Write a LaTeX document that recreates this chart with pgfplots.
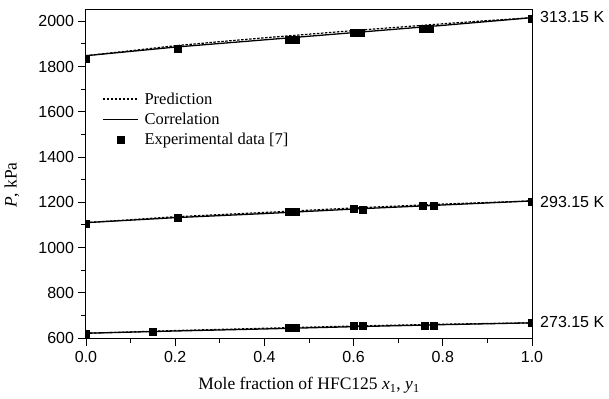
\documentclass[border=0pt]{standalone}
\usepackage{fontspec}
\setmainfont{Liberation Serif}
\newfontfamily\lsans{Liberation Sans}
\usepackage{pgfplots}
\pgfplotsset{compat=1.18}
\pgfplotsset{
  linelegend/.style={legend image code/.code={\draw[##1] (0pt,0pt) -- (35pt,0pt); \path (39pt,0pt);}},
  marklegend/.style={legend image code/.code={\draw[##1] plot coordinates {(17.5pt,0pt)}; \path (0pt,0pt) (39pt,0pt);}},
}
\begin{document}
\begin{tikzpicture}
\begin{axis}[
  name=ax,
  scale only axis,
  width=446pt, height=328pt,
  xmin=0, xmax=1, ymin=600, ymax=2050,
  xtick={0,0.2,0.4,0.6,0.8,1.0},
  minor xtick={0.1,0.3,0.5,0.7,0.9},
  ytick={600,800,1000,1200,1400,1600,1800,2000},
  minor ytick={700,900,1100,1300,1500,1700,1900},
  xtick pos=bottom, ytick pos=left,
  tick align=outside,
  major tick length=7.5pt, minor tick length=5pt,
  tick style={black, line width=0.9pt},
  axis line style={line width=1pt},
  /pgf/number format/assume math mode=true,
  xticklabel style={/pgf/number format/fixed, /pgf/number format/fixed zerofill, /pgf/number format/precision=1, yshift=-2pt},
  yticklabel style={/pgf/number format/1000 sep={}, xshift=-1pt},
  tick label style={font=\lsans\fontsize{16}{18}\selectfont},
  xlabel={Mole fraction of HFC125 \textit{x}\textsubscript{1}, \textit{y}\textsubscript{1}},
  ylabel={\textit{P}, kPa},
  label style={font=\fontsize{17.5}{20}\selectfont},
  xlabel style={at={(axis description cs:0.5,-0.145)}, anchor=center},
  ylabel style={at={(axis description cs:-0.166,0.466)}, anchor=center},
  clip mode=individual,
  clip marker paths=true,
  legend style={at={(0.036,0.755)}, anchor=north west, draw=none, fill=none,
    font=\fontsize{16.5}{19}\selectfont, inner sep=0pt, row sep=3.5pt,
    legend cell align=left},
]
% Prediction (dashed)
\addplot[black, line width=1.2pt, dash pattern=on 2.5pt off 1.5pt, linelegend] coordinates {
(0,1848)(0.1,1870)(0.2,1892)(0.3,1910)(0.4,1927)(0.5,1943)(0.6,1959)(0.7,1974)(0.8,1989)(0.9,2003)(1.0,2016)};
\addlegendentry{Prediction}
% Correlation (solid)
\addplot[black, line width=1.3pt, linelegend] coordinates {
(0,1848)(0.1,1867)(0.2,1886)(0.3,1902)(0.4,1918)(0.5,1934)(0.6,1950)(0.7,1966)(0.8,1982)(0.9,1999)(1.0,2016)};
\addlegendentry{Correlation}
% Experimental
\addplot[only marks, mark=square*, mark size=3.5pt, black, marklegend] coordinates {
(0,1834)(0.205,1878)(0.455,1918)(0.47,1918)(0.6,1949)(0.615,1949)(0.755,1967)(0.77,1967)(1.0,2010)};
\addlegendentry{Experimental data [7]}
% 293.15 K
\addplot[black, line width=1.2pt, dash pattern=on 2.5pt off 1.5pt, forget plot] coordinates {
(0,1110)(0.2,1136)(0.4,1155)(0.6,1175)(0.8,1192)(1.0,1206)};
\addplot[black, line width=1.3pt, forget plot] coordinates {
(0,1110)(0.2,1132)(0.4,1150)(0.6,1170)(0.8,1188)(1.0,1206)};
\addplot[only marks, mark=square*, mark size=3.5pt, black, forget plot] coordinates {
(0,1107)(0.205,1133)(0.455,1158)(0.47,1157)(0.6,1170)(0.62,1168)(0.755,1184)(0.78,1184)(1.0,1204)};
% 273.15 K
\addplot[black, line width=1.2pt, dash pattern=on 2.5pt off 1.5pt, forget plot] coordinates {
(0,621)(0.2,633)(0.4,643)(0.6,653)(0.8,661)(1.0,667)};
\addplot[black, line width=1.3pt, forget plot] coordinates {
(0,621)(0.2,631)(0.4,640)(0.6,650)(0.8,659)(1.0,667)};
\addplot[only marks, mark=square*, mark size=3.5pt, black, forget plot] coordinates {
(0,620)(0.15,630)(0.455,644)(0.47,644)(0.6,656)(0.62,654)(0.76,656)(0.78,656)(1.0,666)};
% temperature labels
\node[anchor=west, inner sep=0pt, font=\lsans\fontsize{16}{18}\selectfont] at ([xshift=8pt]axis cs:1,2020) {313.15 K};
\node[anchor=west, inner sep=0pt, font=\lsans\fontsize{16}{18}\selectfont] at ([xshift=8pt]axis cs:1,1203) {293.15 K};
\node[anchor=west, inner sep=0pt, font=\lsans\fontsize{16}{18}\selectfont] at ([xshift=8pt]axis cs:1,670) {273.15 K};
\end{axis}
\pgfresetboundingbox
\path ([shift={(-86pt,-60pt)}]ax.south west) rectangle ([shift={(77pt,10pt)}]ax.north east);
\end{tikzpicture}
\end{document}
